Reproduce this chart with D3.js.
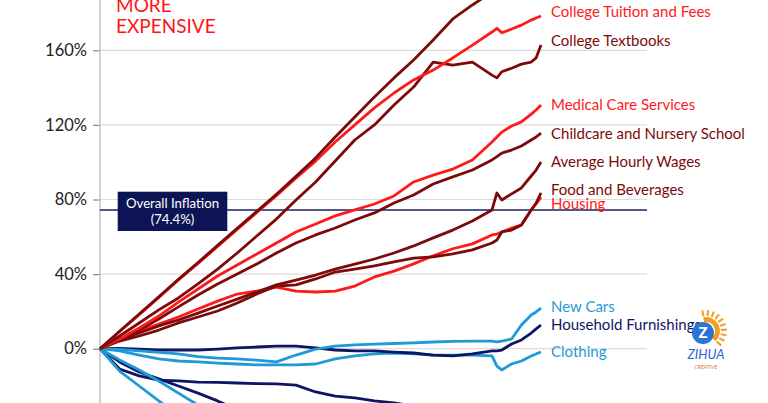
<!DOCTYPE html>
<html>
<head>
<meta charset="utf-8">
<script src="https://cdn.jsdelivr.net/npm/d3@7/dist/d3.min.js"></script>
<style>
  html, body { margin: 0; padding: 0; background: #fff; }
  svg { display: block; }
  text { font-family: Lato, "Open Sans", sans-serif; }
</style>
</head>
<body>
<svg id="chart" width="768" height="403"></svg>
<script>
// ---- Data (percent change since Jan 2000) ----
const dates = [2000, 2001, 2002, 2003, 2004, 2005, 2006, 2007, 2008, 2009, 2010,
  2011, 2012, 2013, 2014, 2015, 2016, 2017, 2018, 2019, 2020, 2020.25, 2020.5,
  2021, 2021.5, 2022, 2022.25, 2022.5];

const hospitalServices = [0, 9.4, 18.6, 27.8, 37.2, 46.2, 55.4, 64.6, 73.6, 82.8, 92.4,
  102.3, 113.5, 124.2, 135, 145.2, 154.8, 165.5, 176.8, 184.3, 191.3, 193.5, 195.5,
  200.4, 204.5, 208.4, 210.5, 212.7];
const collegeTuition = [0, 9.2, 18.3, 27.5, 36.8, 45.7, 54.8, 63.9, 73, 82.1, 91.5,
  100.6, 110.8, 120, 129.1, 137.1, 144.1, 149.4, 155.9, 162.8, 169.8, 171.8, 169.4,
  171.4, 173.5, 176.2, 177.3, 178.4];
const collegeTextbooks = [0, 6.8, 13.8, 20.8, 27.2, 34.7, 42.7, 51.3, 60.4, 69.5, 79.7,
  89.4, 100.6, 111.9, 120, 130.7, 140.3, 153.7, 152.1, 153.7, 146.7, 145.2, 148.5,
  150.4, 152.6, 153.7, 155.9, 162.8];
const medicalCare = [0, 5.2, 11.1, 17.5, 25, 32, 39, 44.9, 50.8, 56.7, 62.6,
  66.9, 71.2, 74.4, 77.6, 81.9, 89.4, 93.1, 96.3, 101.2, 110.8, 113.5, 116.1,
  119.4, 121.6, 125.8, 128, 130.7];
const childcare = [0, 4.7, 10, 15.9, 22.4, 28.8, 34.7, 40.1, 45.4, 51.3, 56.7,
  61, 64.7, 69, 72.8, 78.1, 82.4, 88.3, 92.1, 95.8, 101.2, 103, 104.9,
  106.5, 108.7, 111.9, 113.5, 115.6];
const averageWages = [0, 4.7, 8.4, 12.2, 15.4, 19.1, 22.9, 26.6, 30.4, 34.2, 36.8,
  39.5, 42.7, 45.4, 48.1, 51.3, 55.1, 59.4, 63.6, 68.5, 74.4, 83.5, 79.7,
  83, 86.2, 92.6, 95.8, 100.1];
const foodBeverages = [0, 4.1, 6.8, 10, 13.8, 17, 20.2, 24.5, 29.3, 33.6, 34.2,
  37.4, 41.1, 42.7, 44.4, 46.5, 48.6, 49.2, 50.8, 53, 56.7, 58.3, 62.6,
  63.6, 66.3, 74.4, 78.1, 83.5];
const housing = [0, 5.2, 9.5, 13.2, 17, 21.3, 25.5, 29.3, 30.9, 33, 30.9,
  30.4, 30.9, 33.6, 38.5, 41.6, 45.5, 49.8, 53.6, 56.2, 61, 61.5, 62.6,
  64.7, 66.3, 74.4, 77.6, 81.3];
const newCars = [0, -0.4, -1.2, -2, -2.8, -4.2, -5, -5.5, -6.1, -7.1, -3.4,
  -0.2, 1.4, 2, 2.5, 2.8, 3.1, 3.6, 3.9, 4.1, 4.1, 3.6, 4.1,
  5.2, 12.7, 18.1, 19.7, 21.8];
const householdFurnishings = [0, 0.1, -0.2, -0.7, -0.7, -0.7, -0.2, 0.4, 0.9, 1.4, 1.4,
  0.4, -0.7, -1.2, -1.2, -1.8, -2.3, -3.4, -3.9, -2.8, -1.2, -1.2, -0.7,
  2.5, 4.7, 8.4, 10.6, 12.7];
const clothing = [0, -1.2, -3.4, -5.5, -6.6, -7.1, -7.7, -8.2, -8.7, -8.7, -8.7,
  -8.2, -5.5, -3.9, -2.8, -2.3, -2.8, -3.4, -3.4, -3.4, -3.9, -9.3, -11.4,
  -8.2, -6.6, -3.9, -2.8, -1.8];
const computerSoftware = [0, -10.9, -14.6, -16.8, -17.3, -17.9, -18.1, -18.4, -18.7, -18.9, -19.5,
  -23.2, -25.4, -26.4, -28, -29.1, -30.7, -32.3, null, null, null, null, null,
  null, null, null, null, null];
const cellPhoneService = [0, -7.1, -12.5, -16.2, -20, -23.8, -28, -32.8, -37, null, null,
  null, null, null, null, null, null, null, null, null, null, null, null,
  null, null, null, null, null];
const televisions = [0, -12, -20, -28, -35.6, null, null, null, null, null, null,
  null, null, null, null, null, null, null, null, null, null, null, null,
  null, null, null, null, null];
const toys = [0, -6, -11.4, -17.3, -23.8, -30.2, -37, null, null, null, null,
  null, null, null, null, null, null, null, null, null, null, null, null,
  null, null, null, null, null];

const overallInflation = 74.4;
const yTicks = [0, 40, 80, 120, 160];

const BRIGHT = "#ff1a1a", DARK = "#7d0a0a", LIGHT = "#1f9ad6", NAVY = "#0e1563";

const series = [
  { name: "Computer Software", values: computerSoftware, color: NAVY, label: null },
  { name: "Cellular Phone Service", values: cellPhoneService, color: NAVY, label: null },
  { name: "Televisions", values: televisions, color: LIGHT, label: null },
  { name: "Toys", values: toys, color: LIGHT, label: null },
  { name: "Clothing", values: clothing, color: LIGHT, label: "Clothing", ly: 352 },
  { name: "Household Furnishings", values: householdFurnishings, color: NAVY, label: "Household Furnishings", ly: 325 },
  { name: "New Cars", values: newCars, color: LIGHT, label: "New Cars", ly: 307 },
  { name: "Housing", values: housing, color: BRIGHT, label: "Housing", ly: 204 },
  { name: "Food and Beverages", values: foodBeverages, color: DARK, label: "Food and Beverages", ly: 190 },
  { name: "Average Hourly Wages", values: averageWages, color: DARK, label: "Average Hourly Wages", ly: 162 },
  { name: "Childcare and Nursery School", values: childcare, color: DARK, label: "Childcare and Nursery School", ly: 134 },
  { name: "Medical Care Services", values: medicalCare, color: BRIGHT, label: "Medical Care Services", ly: 105 },
  { name: "College Textbooks", values: collegeTextbooks, color: DARK, label: "College Textbooks", ly: 41 },
  { name: "College Tuition and Fees", values: collegeTuition, color: BRIGHT, label: "College Tuition and Fees", ly: 12 },
  { name: "Hospital Services", values: hospitalServices, color: DARK, label: null }
];

// ---- Layout ----
const svg = d3.select("#chart");
const x = d3.scaleLinear().domain([2000, 2022.5]).range([100, 541]);
const y = d3.scaleLinear().domain([0, 160]).range([348.7, 50.3]);
const gridRight = 647;

// gridlines
svg.append("g").selectAll("line").data(yTicks).join("line")
  .attr("x1", x(2000)).attr("x2", gridRight)
  .attr("y1", d => y(d)).attr("y2", d => y(d))
  .attr("stroke", "#dcdcdc").attr("stroke-width", 1.2);

// y axis
const axis = svg.append("g").attr("transform", `translate(${x(2000)},0)`)
  .call(d3.axisLeft(y).tickValues(yTicks).tickSize(7).tickPadding(6).tickFormat(d => d + "%"));
axis.select(".domain").remove();
axis.selectAll(".tick line").attr("stroke", "#8a8a8a").attr("stroke-width", 1.2);
axis.selectAll(".tick text").attr("fill", "#222").style("font-size", "16.5px")
  .style("font-family", "Lato, sans-serif");
svg.append("line").attr("x1", x(2000)).attr("x2", x(2000)).attr("y1", 0).attr("y2", 403)
  .attr("stroke", "#b5b5b5").attr("stroke-width", 1.2);

// overall inflation line
svg.append("line").attr("x1", x(2000)).attr("x2", gridRight)
  .attr("y1", y(overallInflation)).attr("y2", y(overallInflation))
  .attr("stroke", "#1b2060").attr("stroke-width", 1.5);

// lines
const line = d3.line()
  .defined(d => d[1] !== null)
  .x(d => x(d[0])).y(d => y(d[1]));
svg.append("g").selectAll("path").data(series).join("path")
  .attr("d", s => line(dates.map((t, i) => [t, s.values[i]])))
  .attr("fill", "none")
  .attr("stroke", s => s.color)
  .attr("stroke-width", 2.8)
  .attr("stroke-linejoin", "round");

// labels
svg.append("g").selectAll("text").data(series.filter(s => s.label)).join("text")
  .attr("x", 551).attr("y", s => s.ly)
  .attr("dy", "0.35em")
  .attr("fill", s => s.color)
  .style("font-size", "15px")
  .text(s => s.label);

// overall inflation box
const bx = 117.7, bw = 109.6, by = 191.7, bh = 39.3;
svg.append("rect").attr("x", bx).attr("y", by).attr("width", bw).attr("height", bh)
  .attr("fill", "#0d1456");
svg.append("text").attr("x", bx + bw / 2).attr("y", 203.5).attr("dy", "0.35em")
  .attr("text-anchor", "middle").attr("fill", "#fff").style("font-size", "13.2px")
  .text("Overall Inflation");
svg.append("text").attr("x", bx + bw / 2).attr("y", 219.5).attr("dy", "0.35em")
  .attr("text-anchor", "middle").attr("fill", "#fff").style("font-size", "13.2px")
  .text("(74.4%)");

// "MORE EXPENSIVE"
svg.append("text").attr("x", 116).attr("y", 11.7).attr("fill", "#ff1414")
  .style("font-size", "19px").text("MORE");
svg.append("text").attr("x", 116).attr("y", 33.3).attr("fill", "#ff1414")
  .style("font-size", "19px").text("EXPENSIVE");

// watermark logo
const logo = svg.append("g").attr("transform", "translate(706,331)");
const rays = d3.range(-100, 60, 16);
logo.selectAll("line.ray").data(rays).join("line")
  .attr("x1", a => 15 * Math.cos(a * Math.PI / 180))
  .attr("y1", a => 15 * Math.sin(a * Math.PI / 180))
  .attr("x2", a => 21 * Math.cos(a * Math.PI / 180))
  .attr("y2", a => 21 * Math.sin(a * Math.PI / 180))
  .attr("stroke", "#f39c1e").attr("stroke-width", 2);
logo.append("path").attr("d", d3.arc()({innerRadius: 9, outerRadius: 14, startAngle: -0.2, endAngle: 2.4}))
  .attr("fill", "#f39c1e");
logo.append("circle").attr("cx", -3).attr("cy", 2).attr("r", 11).attr("fill", "#2b74d6");
logo.append("text").attr("x", -3).attr("y", 2).attr("dy", "0.36em").attr("text-anchor", "middle")
  .attr("fill", "#fff").style("font-size", "15px").style("font-weight", "900").text("Z");
logo.append("text").attr("x", 0).attr("y", 28).attr("text-anchor", "middle")
  .attr("fill", "#2b62d6").style("font-size", "13px").style("font-style", "italic").text("ZIHUA");
logo.append("text").attr("x", 0).attr("y", 38).attr("text-anchor", "middle")
  .attr("fill", "#e8752a").style("font-size", "5px").text("CREATIVE");
</script>
</body>
</html>
